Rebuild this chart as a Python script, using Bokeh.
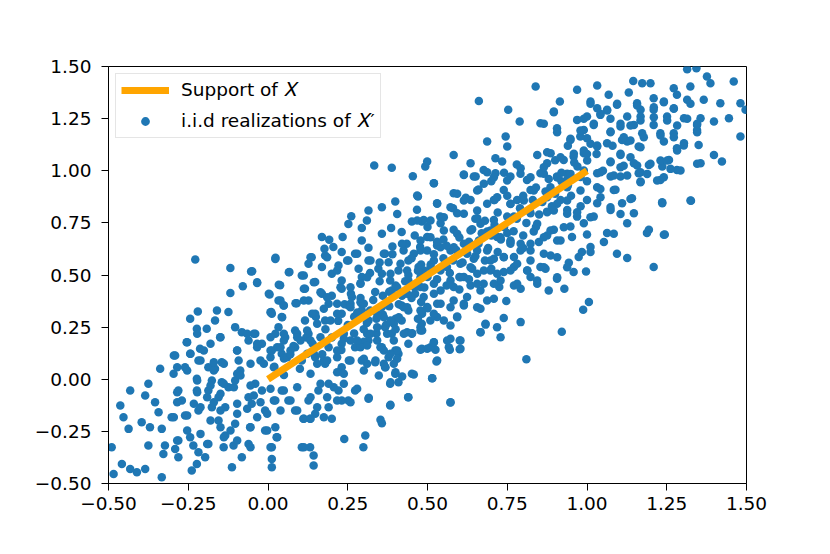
from bokeh.plotting import figure
from bokeh.models import Legend, LegendItem, FixedTicker, Range1d
from bokeh.embed import file_html
from bokeh.resources import INLINE

# ---- data -------------------------------------------------------------
support_x = [0.0, 1.0]
support_y = [0.0, 1.0]

tick_values = [-0.5, -0.25, 0.0, 0.25, 0.5, 0.75, 1.0, 1.25, 1.5]
tick_labels = ["\u22120.50", "\u22120.25", "0.00", "0.25", "0.50", "0.75", "1.00", "1.25", "1.50"]

pts_upper_left = [(0.333,1.025),(0.388,1.014),(0.454,0.974),(0.493,1.02),(0.47,0.876),(0.399,0.852),(0.357,0.825),(0.315,0.809),(0.261,0.782),(0.252,0.745),(0.31,0.761),(0.405,0.793),(0.467,0.813),(0.451,0.757),(0.482,0.757),(0.386,0.726),(0.294,0.725),(0.357,0.698),(0.419,0.706),(0.169,0.682),(0.192,0.669),(0.234,0.682),(0.294,0.666),(0.177,0.626),(0.205,0.634),(0.231,0.61),(0.273,0.602),(0.315,0.631),(0.367,0.602),(0.39,0.637),(0.435,0.65),(0.425,0.618),(0.477,0.634),(0.137,0.585),(0.179,0.593),(0.252,0.569),(0.315,0.569),(0.378,0.561),(0.44,0.569),(0.127,0.554),(0.169,0.538),(0.221,0.546),(0.284,0.53),(0.346,0.53),(0.409,0.522),(0.472,0.538),(0.106,0.498),(0.148,0.466),(0.2,0.506),(0.231,0.474),(0.294,0.49),(0.357,0.506),(0.383,0.474),(0.44,0.474),(0.116,0.434),(0.169,0.41),(0.231,0.434),(0.263,0.394),(0.336,0.418),(0.388,0.426),(0.461,0.41),(0.127,0.378),(0.19,0.362),(0.252,0.354),(0.294,0.362),(0.357,0.346),(0.419,0.354),(-0.228,0.574),(-0.118,0.533),(-0.053,0.517),(-0.079,0.446),(-0.034,0.462),(-0.118,0.414),(0.023,0.577),(0.067,0.514),(0.038,0.451),(0.005,0.406),(0.033,0.378),(0.049,0.354),(0.09,0.365),(-0.22,0.325),(-0.16,0.33),(-0.124,0.322),(0.01,0.322)]

pts_upper_right = [(0.661,1.335),(0.839,1.404),(0.753,1.292),(0.789,1.236),(0.854,1.228),(0.906,1.204),(0.896,1.284),(0.915,1.332),(0.969,1.388),(1.032,1.409),(1.145,1.43),(1.173,1.42),(1.199,1.42),(1.314,1.487),(1.343,1.492),(1.376,1.452),(1.387,1.42),(1.324,1.404),(1.272,1.396),(1.282,1.364),(1.209,1.348),(1.241,1.332),(1.131,1.375),(1.068,1.364),(1.011,1.332),(1.032,1.3),(1.063,1.292),(1.094,1.316),(1.157,1.324),(1.168,1.292),(1.209,1.292),(1.272,1.3),(1.314,1.34),(1.366,1.34),(1.418,1.324),(1.46,1.428),(1.481,1.324),(1.497,1.292),(1.445,1.252),(1.398,1.236),(1.356,1.252),(1.345,1.22),(1.304,1.252),(1.251,1.26),(1.209,1.22),(1.168,1.26),(1.126,1.26),(1.105,1.212),(1.042,1.268),(1.0,1.26),(0.969,1.244),(0.99,1.196),(1.021,1.22),(1.074,1.188),(1.147,1.22),(1.173,1.18),(1.23,1.18),(1.272,1.18),(1.241,1.14),(1.304,1.132),(1.282,1.108),(1.345,1.196),(1.35,1.124),(1.481,1.164),(1.398,1.076),(1.356,1.036),(1.423,1.044),(1.257,1.052),(1.236,1.02),(1.282,1.004),(1.23,0.956),(1.194,1.028),(1.162,0.988),(1.115,1.024),(1.147,1.036),(1.105,1.076),(1.074,1.044),(1.126,1.14),(1.162,1.116),(1.11,1.148),(1.063,1.132),(1.032,1.116),(1.0,1.156),(0.979,1.164),(0.948,1.148),(0.99,1.084),(0.958,1.068),(0.927,1.052),(0.886,1.084),(0.844,1.076),(0.875,1.036),(0.792,1.012),(0.75,1.116),(0.745,1.164),(0.687,1.14),(0.734,1.044),(0.713,1.06),(0.635,1.036),(0.582,1.076),(0.499,1.044),(0.676,1.004),(0.614,0.98),(0.52,0.94),(0.651,0.972),(0.713,0.988),(0.76,0.972),(0.812,0.956),(0.854,0.988),(0.906,0.972),(0.938,0.956),(1.032,0.988),(1.074,0.972),(1.105,0.972),(1.168,0.948),(1.084,0.908),(1.042,0.912),(1.141,0.868),(1.11,0.844),(1.236,0.844),(1.326,0.856),(1.147,0.796),(1.074,0.812),(1.032,0.844),(1.0,0.86),(1.021,0.78),(0.969,0.78),(0.99,0.748),(1.063,0.701),(1.194,0.717),(1.241,0.693),(1.126,0.748),(0.53,0.844),(0.582,0.892),(0.635,0.86),(0.708,0.86),(0.739,0.908),(0.781,0.86),(0.823,0.908),(0.875,0.892),(0.917,0.86),(0.938,0.812),(0.875,0.804),(0.823,0.796),(0.771,0.78),(0.708,0.764),(0.656,0.772),(0.593,0.796),(0.541,0.748),(0.488,0.764),(0.582,0.717),(0.687,0.709),(0.75,0.701),(0.833,0.709),(0.896,0.717),(0.948,0.733)]

pts_lower_left = [(-0.244,0.29),(-0.223,0.242),(-0.192,0.242),(-0.166,0.282),(-0.15,0.202),(-0.103,0.25),(-0.082,0.226),(-0.061,0.186),(-0.04,0.218),(-0.019,0.17),(0.012,0.314),(0.043,0.298),(0.033,0.25),(0.023,0.218),(0.054,0.202),(0.012,0.138),(0.043,0.122),(0.085,0.154),(0.085,0.234),(0.127,0.218),(0.116,0.282),(0.148,0.314),(0.179,0.282),(0.231,0.314),(0.294,0.33),(0.315,0.282),(0.367,0.25),(0.388,0.218),(0.419,0.282),(0.451,0.218),(0.482,0.266),(0.482,0.146),(0.44,0.17),(0.399,0.138),(0.357,0.154),(0.315,0.186),(0.273,0.154),(0.231,0.17),(0.19,0.154),(0.148,0.106),(0.106,0.09),(0.179,0.074),(0.231,0.058),(0.294,0.09),(0.336,0.082),(0.378,0.106),(0.409,0.122),(0.367,0.058),(0.399,0.026),(0.451,0.026),(0.409,-0.014),(0.383,-0.022),(0.44,-0.086),(0.383,-0.126),(0.357,-0.211),(0.273,-0.054),(0.315,-0.094),(0.252,-0.102),(0.221,-0.054),(0.19,-0.022),(0.158,-0.054),(0.127,-0.102),(0.148,-0.166),(0.111,-0.19),(0.132,-0.19),(0.2,-0.19),(0.19,-0.134),(0.231,-0.102),(0.106,-0.326),(0.132,-0.326),(0.143,-0.366),(0.143,-0.414),(0.239,-0.286),(0.305,-0.27),(0.299,-0.326),(0.085,-0.15),(0.064,-0.102),(0.043,-0.054),(0.023,-0.102),(-0.009,-0.15),(-0.019,-0.054),(-0.04,-0.022),(-0.061,-0.086),(-0.051,-0.118),(0.023,-0.23),(0.027,-0.278),(0.012,-0.326),(0.012,-0.382),(0.012,-0.422),(-0.009,-0.246),(-0.061,-0.31),(-0.056,-0.23),(-0.082,-0.374),(-0.113,-0.422),(-0.108,-0.318),(-0.139,-0.326),(-0.103,-0.214),(-0.134,-0.27),(-0.155,-0.198),(-0.187,-0.31),(-0.197,-0.374),(-0.223,-0.406),(-0.239,-0.438),(-0.218,-0.35),(-0.234,-0.318),(-0.244,-0.278),(-0.281,-0.374),(-0.291,-0.334),(-0.281,-0.294),(-0.328,-0.358),(-0.323,-0.318),(-0.37,-0.23),(-0.333,-0.238),(-0.396,-0.206),(-0.437,-0.238),(-0.375,-0.318),(-0.385,-0.43),(-0.411,-0.446),(-0.432,-0.43),(-0.458,-0.406),(-0.49,-0.326),(-0.484,-0.454),(-0.333,-0.47),(-0.453,-0.182),(-0.463,-0.126),(-0.432,-0.054),(-0.385,-0.078),(-0.354,-0.11),(-0.343,-0.158),(-0.375,-0.022),(-0.338,0.05),(-0.296,0.026),(-0.291,0.114),(-0.26,0.058),(-0.255,0.178),(-0.244,0.122),(-0.218,0.09),(-0.223,0.002),(-0.281,-0.054),(-0.27,-0.102),(-0.302,-0.182),(-0.26,-0.174),(-0.223,-0.054),(-0.213,0.146),(-0.187,0.058),(-0.166,0.05),(-0.145,0.082),(-0.176,-0.006),(-0.187,-0.054),(-0.145,-0.014),(-0.124,-0.038),(-0.103,-0.006),(-0.092,0.09),(-0.097,0.138),(-0.087,0.042),(-0.155,-0.086),(-0.134,-0.134),(-0.176,-0.134),(-0.218,-0.15)]

pts_lower_right = [(1.244,0.694),(1.188,0.701),(1.209,0.538),(1.126,0.581),(1.094,0.602),(1.053,0.658),(1.084,0.698),(1.011,0.634),(1.011,0.61),(0.984,0.61),(0.974,0.586),(0.943,0.559),(0.958,0.514),(0.997,0.517),(1.0,0.694),(0.953,0.682),(0.906,0.482),(0.929,0.434),(0.88,0.426),(1.006,0.37),(0.988,0.333),(0.921,0.228),(0.81,0.096),(0.792,0.274),(0.729,0.202),(0.718,0.25),(0.739,0.294),(0.682,0.262),(0.666,0.226),(0.747,0.375),(0.725,0.442),(0.601,0.186),(0.601,0.144),(0.572,0.194),(0.57,0.141),(0.52,0.178),(0.525,0.141),(0.499,0.146),(0.528,0.085),(0.515,0.005),(0.572,-0.111),(0.572,0.258),(0.53,0.298),(0.593,0.301),(0.478,0.25),(0.614,0.354),(0.666,0.338),(0.687,0.378),(0.708,0.386),(0.666,0.426),(0.624,0.394),(0.582,0.378),(0.541,0.362),(0.499,0.346),(0.488,0.394),(0.541,0.426),(0.582,0.442),(0.635,0.45),(0.676,0.458),(0.729,0.474),(0.771,0.45),(0.792,0.434),(0.823,0.49),(0.844,0.458),(0.854,0.538),(0.87,0.53),(0.813,0.522),(0.771,0.538),(0.739,0.514),(0.697,0.522),(0.656,0.506),(0.614,0.49),(0.572,0.474),(0.52,0.458),(0.478,0.442),(0.771,0.586),(0.823,0.618),(0.849,0.658),(0.886,0.594),(0.917,0.666),(0.875,0.69),(0.792,0.65),(0.76,0.658),(0.739,0.586),(0.708,0.578),(0.687,0.618),(0.645,0.578),(0.603,0.554),(0.561,0.538),(0.52,0.57),(0.488,0.522),(0.572,0.618),(0.53,0.642),(0.614,0.65),(0.661,0.666),(0.718,0.682),(0.499,0.682),(0.478,0.618),(0.483,0.314),(0.509,0.282),(0.478,0.234)]

pts_core = [(0.28,0.32),(0.31,0.27),(0.33,0.38),(0.36,0.31),(0.38,0.42),(0.41,0.36),(0.43,0.47),(0.45,0.39),(0.47,0.52),(0.49,0.44),(0.51,0.55),(0.53,0.48),(0.55,0.58),(0.57,0.51),(0.59,0.62),(0.61,0.56),(0.63,0.66),(0.65,0.59),(0.67,0.70),(0.69,0.63),(0.71,0.74),(0.73,0.67),(0.75,0.78),(0.77,0.71),(0.79,0.82),(0.81,0.75),(0.83,0.86),(0.85,0.79),(0.87,0.90),(0.89,0.83),(0.26,0.41),(0.29,0.46),(0.32,0.51),(0.35,0.56),(0.39,0.60),(0.42,0.65),(0.46,0.69),(0.50,0.73),(0.54,0.78),(0.58,0.82),(0.62,0.87),(0.66,0.91),(0.70,0.95),(0.74,0.99),(0.78,1.03),(0.30,0.18),(0.34,0.22),(0.37,0.26),(0.40,0.29),(0.44,0.33),(0.48,0.37),(0.52,0.41),(0.56,0.45),(0.60,0.49),(0.64,0.53),(0.68,0.57),(0.72,0.61),(0.76,0.65),(0.80,0.69),(0.84,0.73),(0.22,0.28),(0.24,0.36),(0.27,0.22),(0.18,0.24),(0.15,0.30),(0.20,0.40),(0.12,0.20),(0.08,0.16),(0.05,0.10),(0.02,0.06),(0.92,0.95),(0.95,0.88),(0.97,1.02),(1.00,0.95),(1.03,1.08),(1.05,1.00),(0.90,1.05),(0.94,1.12),(0.98,0.83),(1.08,1.12)]

pts_mid_a = [(0.0235,0.5823),(-0.0497,0.5184),(0.0653,0.5136),(0.1123,0.4976),(0.1436,0.4656),(-0.034,0.4656),(0.0339,0.4528),(0.1123,0.4336),(0.0026,0.4097),(0.0391,0.3777),(0.0496,0.3537),(0.0862,0.3649),(0.1123,0.3777),(0.0078,0.3217),(0.0444,0.2978),(0.1384,0.3137),(0.1645,0.4177),(0.1854,0.3937),(0.175,0.3377),(0.2168,0.3617),(0.2586,0.3617),(0.2899,0.3697),(0.2272,0.4416),(0.2586,0.4416),(0.2899,0.4576),(0.3108,0.4896),(0.3213,0.5695),(0.3631,0.6015),(0.384,0.5056),(0.4153,0.5536),(0.4362,0.5216),(0.4049,0.4416),(0.4362,0.4097),(0.4258,0.3457),(0.3631,0.2978),(0.3944,0.2658),(0.4362,0.2258),(0.4049,0.1379),(0.3631,0.1379),(0.3422,0.1858),(0.3108,0.2178),(0.2899,0.1539),(0.2586,0.1858),(0.2377,0.2178),(0.1959,0.2818),(0.1541,0.2658),(0.1227,0.2338),(0.1018,0.1858),(0.0705,0.1379),(0.0287,0.1539),(0.0078,0.1059),(-0.0236,0.0899),(-0.0445,0.2178),(-0.034,0.1539),(0.1436,0.1219),(0.175,0.0899),(0.2168,0.1059),(0.2586,0.0899),(0.3108,0.074),(0.3631,0.074),(0.1332,0.5855),(0.1854,0.5855),(0.2168,0.5216),(0.2481,0.5695),(0.2795,0.6015),(0.0914,0.2178),(0.0496,0.1858),(0.1645,0.2018)]

pts_mid_b = [(0.5199,0.9405),(0.6139,0.982),(0.6452,0.9724),(0.687,0.9932),(0.4676,0.8813),(0.5303,0.8413),(0.593,0.8893),(0.6139,0.8573),(0.6557,0.9053),(0.6766,0.9373),(0.708,0.9692),(0.7497,0.9532),(0.7915,0.9852),(0.8229,0.9692),(0.8647,0.9852),(0.9065,0.9692),(0.9378,0.9852),(0.4676,0.7614),(0.5094,0.7614),(0.5721,0.8253),(0.5512,0.7774),(0.6139,0.7934),(0.6557,0.8094),(0.687,0.8413),(0.7184,0.8733),(0.7602,0.8413),(0.802,0.8573),(0.8333,0.9053),(0.8751,0.8733),(0.9065,0.8413),(0.9378,0.7934),(0.8751,0.8014),(0.8438,0.7454),(0.8856,0.7134),(0.9274,0.7294),(0.9065,0.6655),(0.8647,0.6815),(0.8229,0.6495),(0.7915,0.6175),(0.7602,0.6655),(0.7288,0.6815),(0.6975,0.7134),(0.6661,0.7454),(0.6348,0.7134),(0.593,0.6974),(0.5512,0.7134),(0.5094,0.6815),(0.4781,0.6655),(0.4571,0.6015),(0.4989,0.6175),(0.5407,0.6335),(0.5825,0.6335),(0.6243,0.6015),(0.6557,0.6175),(0.6975,0.5695),(0.7393,0.5855),(0.7811,0.5536),(0.8229,0.5695),(0.8647,0.6015),(0.9065,0.5855),(0.9378,0.5376),(0.8647,0.5376),(0.8124,0.5216),(0.7602,0.5216),(0.7184,0.5056),(0.6766,0.5216),(0.6348,0.5376),(0.6034,0.4896),(0.5721,0.4576),(0.5407,0.5216),(0.5094,0.5376),(0.4781,0.4896),(0.9065,0.4896),(0.8438,0.4736),(0.7811,0.4576),(0.708,0.4576),(0.6557,0.4576)]

pts_mid_c = [(0.2168,0.3138),(0.2586,0.3457),(0.3004,0.3617),(0.3422,0.3138),(0.384,0.2818),(0.4101,0.2978),(0.4362,0.3457),(0.478,0.3297),(0.5303,0.3617),(0.5721,0.3457),(0.6139,0.3617),(0.6557,0.3457),(0.5198,0.3138),(0.5512,0.2818),(0.593,0.2978),(0.3422,0.2498),(0.3735,0.2178),(0.3944,0.1859),(0.4258,0.2178),(0.4519,0.221),(0.4833,0.2338),(0.3213,0.2178),(0.2377,0.1938),(0.2795,0.1859),(0.3108,0.1619),(0.3526,0.1539),(0.384,0.1219),(0.4049,0.0979),(0.478,0.1411),(0.5094,0.1539),(0.5198,0.1779),(0.5669,0.1539),(0.5616,0.1859),(0.6034,0.1459),(0.6034,0.1859),(0.6661,0.2258),(0.6818,0.2658),(0.5303,0.0899),(0.2168,0.1379),(0.2534,0.0899),(0.3004,0.0979),(0.337,0.0899),(0.3683,0.058),(0.3944,0.074),(0.3004,0.042),(0.2168,0.034),(0.2377,0.026),(0.2377,-0.022),(0.2063,-0.038),(0.3474,0.018),(0.3997,0.034),(0.4206,0.0132),(0.384,-0.014),(0.4571,0.0228),(0.5146,0.0052),(0.2795,-0.046),(0.2168,-0.102),(0.2586,-0.11),(0.316,-0.089),(0.384,-0.1227),(0.4394,-0.086),(0.5721,-0.11),(0.3526,-0.1946)]

pts_mid_d = [(-0.2534,0.1778),(-0.222,0.2178),(-0.1489,0.2018),(-0.0653,0.2178),(-0.0339,0.1699),(0.0079,0.2018),(0.0497,0.2178),(0.0915,0.2018),(0.1333,0.1858),(-0.2952,0.1139),(-0.2429,0.1219),(-0.2011,0.1379),(-0.1802,0.1699),(-0.0966,0.1379),(0.0079,0.1379),(0.0392,0.1539),(0.0601,0.1059),(0.1228,0.1219),(0.1542,0.074),(0.1855,0.09),(-0.2847,0.0579),(-0.2116,0.0899),(-0.1698,0.0819),(-0.1384,0.0739),(-0.0548,0.0739),(-0.013,0.0739),(0.0183,0.058),(-0.0966,0.026),(-0.1698,0.042),(-0.2534,0.042),(-0.222,-0.006),(-0.1802,-0.03),(-0.1384,-0.022),(-0.107,-0.038),(-0.0862,0.018),(-0.2847,-0.062),(-0.222,-0.062),(-0.1907,-0.086),(-0.1489,-0.07),(-0.0548,-0.03),(-0.0444,-0.078),(0.0079,-0.046),(0.0497,-0.054),(0.0706,-0.102),(0.0915,-0.038),(0.1333,0.026),(0.1646,-0.022),(0.1855,-0.086),(0.1333,-0.086),(0.1542,-0.134),(-0.2847,-0.11),(-0.2325,-0.118),(-0.1698,-0.11),(-0.0966,-0.118),(-0.0653,-0.142),(-0.0235,-0.11),(0.0183,-0.102),(0.0392,-0.15),(-0.0026,-0.166),(-0.0339,-0.182),(-0.0966,-0.166),(-0.1489,-0.15),(-0.2116,-0.134),(-0.2534,-0.174),(-0.2952,-0.182),(-0.1802,-0.198),(-0.1489,-0.23),(-0.1175,-0.246),(-0.0548,-0.23),(-0.0026,-0.246),(0.0288,-0.278),(0.0915,-0.15),(0.1124,-0.19),(0.1333,-0.19),(0.1751,-0.182),(-0.2534,-0.246),(-0.2116,-0.262),(-0.2847,-0.294),(-0.1907,-0.31),(-0.1384,-0.278),(-0.0966,-0.294),(-0.0548,-0.326),(0.0079,-0.326),(0.1124,-0.326)]

pts_mid_e = [(0.896,1.281),(1.011,1.321),(1.0632,1.289),(1.0945,1.321),(1.1572,1.313),(1.2095,1.305),(1.2408,1.329),(1.2722,1.297),(1.3244,1.321),(0.99,1.249),(1.0423,1.273),(1.0736,1.249),(1.105,1.225),(1.1363,1.217),(1.1677,1.241),(1.2095,1.257),(1.2513,1.241),(1.2826,1.217),(1.314,1.249),(1.3453,1.225),(0.8646,1.225),(0.9064,1.185),(0.9482,1.153),(0.9796,1.193),(1.0214,1.225),(1.0736,1.185),(1.1154,1.161),(1.1363,1.145),(1.1781,1.161),(1.1677,1.113),(1.2304,1.169),(1.2722,1.161),(1.3035,1.121),(1.2826,1.097),(1.3453,1.185),(0.8751,1.089),(0.9169,1.065),(0.9587,1.081),(0.99,1.097),(1.011,1.129),(1.0318,1.121),(1.0005,1.049),(1.105,1.081),(1.1363,1.065),(1.0736,1.041),(1.105,1.017),(1.1572,1.025),(1.199,1.033),(1.2304,1.049),(1.2513,1.049),(1.2617,1.009),(1.2931,1.001),(1.3453,1.033),(0.8646,1.017),(0.9064,0.969),(0.9482,0.985),(0.99,1.001),(1.0423,0.993),(1.084,0.977),(1.1259,0.977),(1.1677,0.993),(1.1886,0.985),(1.1677,0.945),(1.2199,0.953),(1.2408,0.969),(1.3244,0.857),(1.2356,0.849),(0.8855,0.921),(0.9378,0.921),(0.9796,0.905),(1.0318,0.921),(1.0893,0.9085),(1.0423,0.873),(1.1363,0.865),(1.0736,0.825),(1.105,0.793),(1.0109,0.777),(0.9378,0.857),(0.896,0.809),(0.9691,0.801)]

pts_band = [(0.05,0.02),(0.07,0.12),(0.1,0.05),(0.14,0.17),(0.17,0.12),(0.2,0.2),(0.23,0.14),(0.25,0.26),(0.27,0.3),(0.3,0.24),(0.32,0.33),(0.34,0.29),(0.36,0.4),(0.38,0.35),(0.4,0.45),(0.42,0.4),(0.44,0.5),(0.46,0.44),(0.48,0.55),(0.5,0.49),(0.52,0.6),(0.54,0.53),(0.56,0.64),(0.58,0.57),(0.6,0.68),(0.62,0.61),(0.64,0.72),(0.66,0.65),(0.68,0.76),(0.7,0.69),(0.72,0.8),(0.74,0.73),(0.76,0.84),(0.78,0.77),(0.8,0.88),(0.82,0.81),(0.84,0.92),(0.86,0.85),(0.88,0.96),(0.9,0.89),(0.92,0.99),(0.94,0.93),(0.96,1.04),(0.98,0.97),(1.0,1.08),(0.35,0.47),(0.45,0.58),(0.55,0.67),(0.65,0.77),(0.75,0.88),(0.4,0.24),(0.5,0.34),(0.6,0.43),(0.7,0.53),(0.8,0.63),(0.29,0.39),(0.53,0.66),(0.63,0.48),(0.71,0.86),(0.47,0.29)]

all_pts = (pts_upper_left + pts_upper_right + pts_lower_left + pts_lower_right + pts_core
           + pts_mid_a + pts_mid_b + pts_mid_c + pts_mid_d + pts_mid_e + pts_band)
real_x = [p[0] for p in all_pts]
real_y = [p[1] for p in all_pts]

# ---- figure -----------------------------------------------------------
FONT = "DejaVu Sans"
p = figure(width=814, height=538, output_backend="svg", toolbar_location=None,
           x_range=Range1d(-0.5, 1.5), y_range=Range1d(-0.5, 1.5),
           min_border_left=108, min_border_right=68, min_border_top=66, min_border_bottom=55)
p.background_fill_color = "white"
p.border_fill_color = "white"
p.outline_line_color = "black"
p.outline_line_width = 1
p.xgrid.visible = False
p.ygrid.visible = False

for ax in (p.xaxis[0], p.yaxis[0]):
    ax.ticker = FixedTicker(ticks=tick_values)
    ax.major_label_overrides = {v: l for v, l in zip(tick_values, tick_labels)}
    ax.minor_tick_line_color = None
    ax.major_tick_in = 0
    ax.major_tick_out = 7
    ax.major_tick_line_color = "black"
    ax.axis_line_color = "black"
    ax.major_label_text_font = FONT
    ax.major_label_text_font_size = "18.5px"
    ax.major_label_text_color = "black"
p.xaxis[0].major_label_standoff = 6
p.yaxis[0].major_label_standoff = 10

sc = p.scatter(real_x, real_y, size=8.5, color="#1f77b4", line_alpha=0)
ln = p.line(support_x, support_y, line_color="#ffa500", line_width=7)

legend = Legend(items=[LegendItem(label="Support of \U0001D44B", renderers=[ln]),
                       LegendItem(label="i.i.d realizations of \U0001D44B\u2032", renderers=[sc])],
                location="top_left")
legend.label_text_font = FONT
legend.label_text_font_size = "18.5px"
legend.label_text_color = "black"
legend.glyph_width = 48
legend.glyph_height = 22
legend.label_height = 22
legend.label_standoff = 12
legend.spacing = 9
legend.padding = 5
legend.margin = 7
legend.border_line_color = "#cccccc"
legend.border_line_width = 1
legend.background_fill_alpha = 0.8
p.add_layout(legend)

open("out.html", "w").write(file_html(p, INLINE))
